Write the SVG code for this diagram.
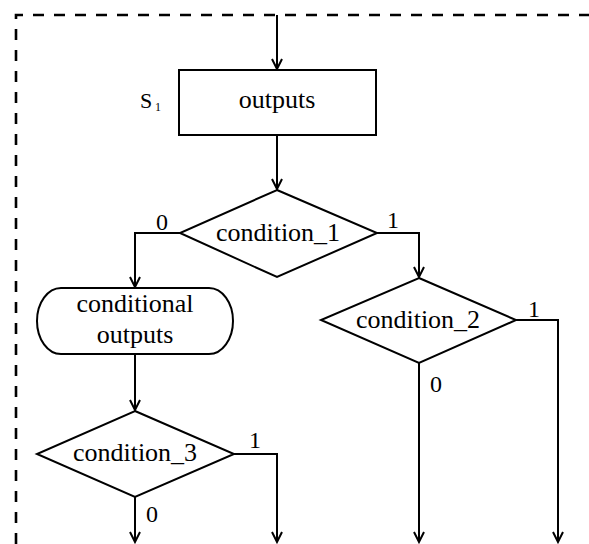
<svg xmlns="http://www.w3.org/2000/svg" width="589" height="544" viewBox="0 0 589 544" font-family="'Liberation Serif', serif" font-size="26">
  <style>
    .shape { fill: #fff; stroke: #000; stroke-width: 2; }
    .wire { fill: none; stroke: #000; stroke-width: 2; marker-end: url(#arrow); }
    .frame { fill: none; stroke: #000; stroke-width: 2.6; stroke-dasharray: 11 10; }
  </style>
  <defs>
    <marker id="arrow" markerUnits="userSpaceOnUse" markerWidth="14" markerHeight="14" viewBox="-12 -7 14 14" refX="0" refY="0" orient="auto">
      <path d="M-10,-5 L0,0 L-10,5" fill="none" stroke="#000" stroke-width="2"/>
    </marker>
  </defs>

  <!-- state boundary -->
  <path class="frame" d="M16,544 V15 H589"/>

  <g id="connectors">
    <path class="wire" d="M277,15 V69"/>
    <path class="wire" d="M277,135 V189"/>
    <path class="wire" d="M180,233 H135 V287"/>
    <path class="wire" d="M377,233 H419 V277"/>
    <path class="wire" d="M135,354 V410"/>
    <path class="wire" d="M516,320 H558 V542"/>
    <path class="wire" d="M419,363 V542"/>
    <path class="wire" d="M234,454 H277 V542"/>
    <path class="wire" d="M135,497 V542"/>
    <g text-anchor="middle" font-size="24">
      <text x="162" y="230">0</text>
      <text x="393" y="228">1</text>
      <text x="534" y="317">1</text>
      <text x="436" y="392">0</text>
      <text x="255" y="448">1</text>
      <text x="152" y="522">0</text>
    </g>
  </g>

  <g id="state-s1">
    <rect class="shape" x="179" y="70" width="197" height="65"/>
    <text x="277" y="108" text-anchor="middle">outputs</text>
    <text x="140" y="108" font-size="22">S</text>
    <text x="155" y="111" font-size="12">1</text>
  </g>

  <g id="condition-1">
    <polygon class="shape" points="277,190 377,233 277,277 180,233"/>
    <text x="278" y="241" text-anchor="middle">condition_1</text>
  </g>

  <g id="conditional-outputs">
    <rect class="shape" x="37" y="288" width="196" height="66" rx="24" ry="33"/>
    <text x="135" y="312" text-anchor="middle">conditional</text>
    <text x="135" y="343" text-anchor="middle">outputs</text>
  </g>

  <g id="condition-2">
    <polygon class="shape" points="419,278 516,320 419,363 321,320"/>
    <text x="418" y="328" text-anchor="middle">condition_2</text>
  </g>

  <g id="condition-3">
    <polygon class="shape" points="135,411 234,454 135,497 37,454"/>
    <text x="135" y="461" text-anchor="middle">condition_3</text>
  </g>
</svg>
